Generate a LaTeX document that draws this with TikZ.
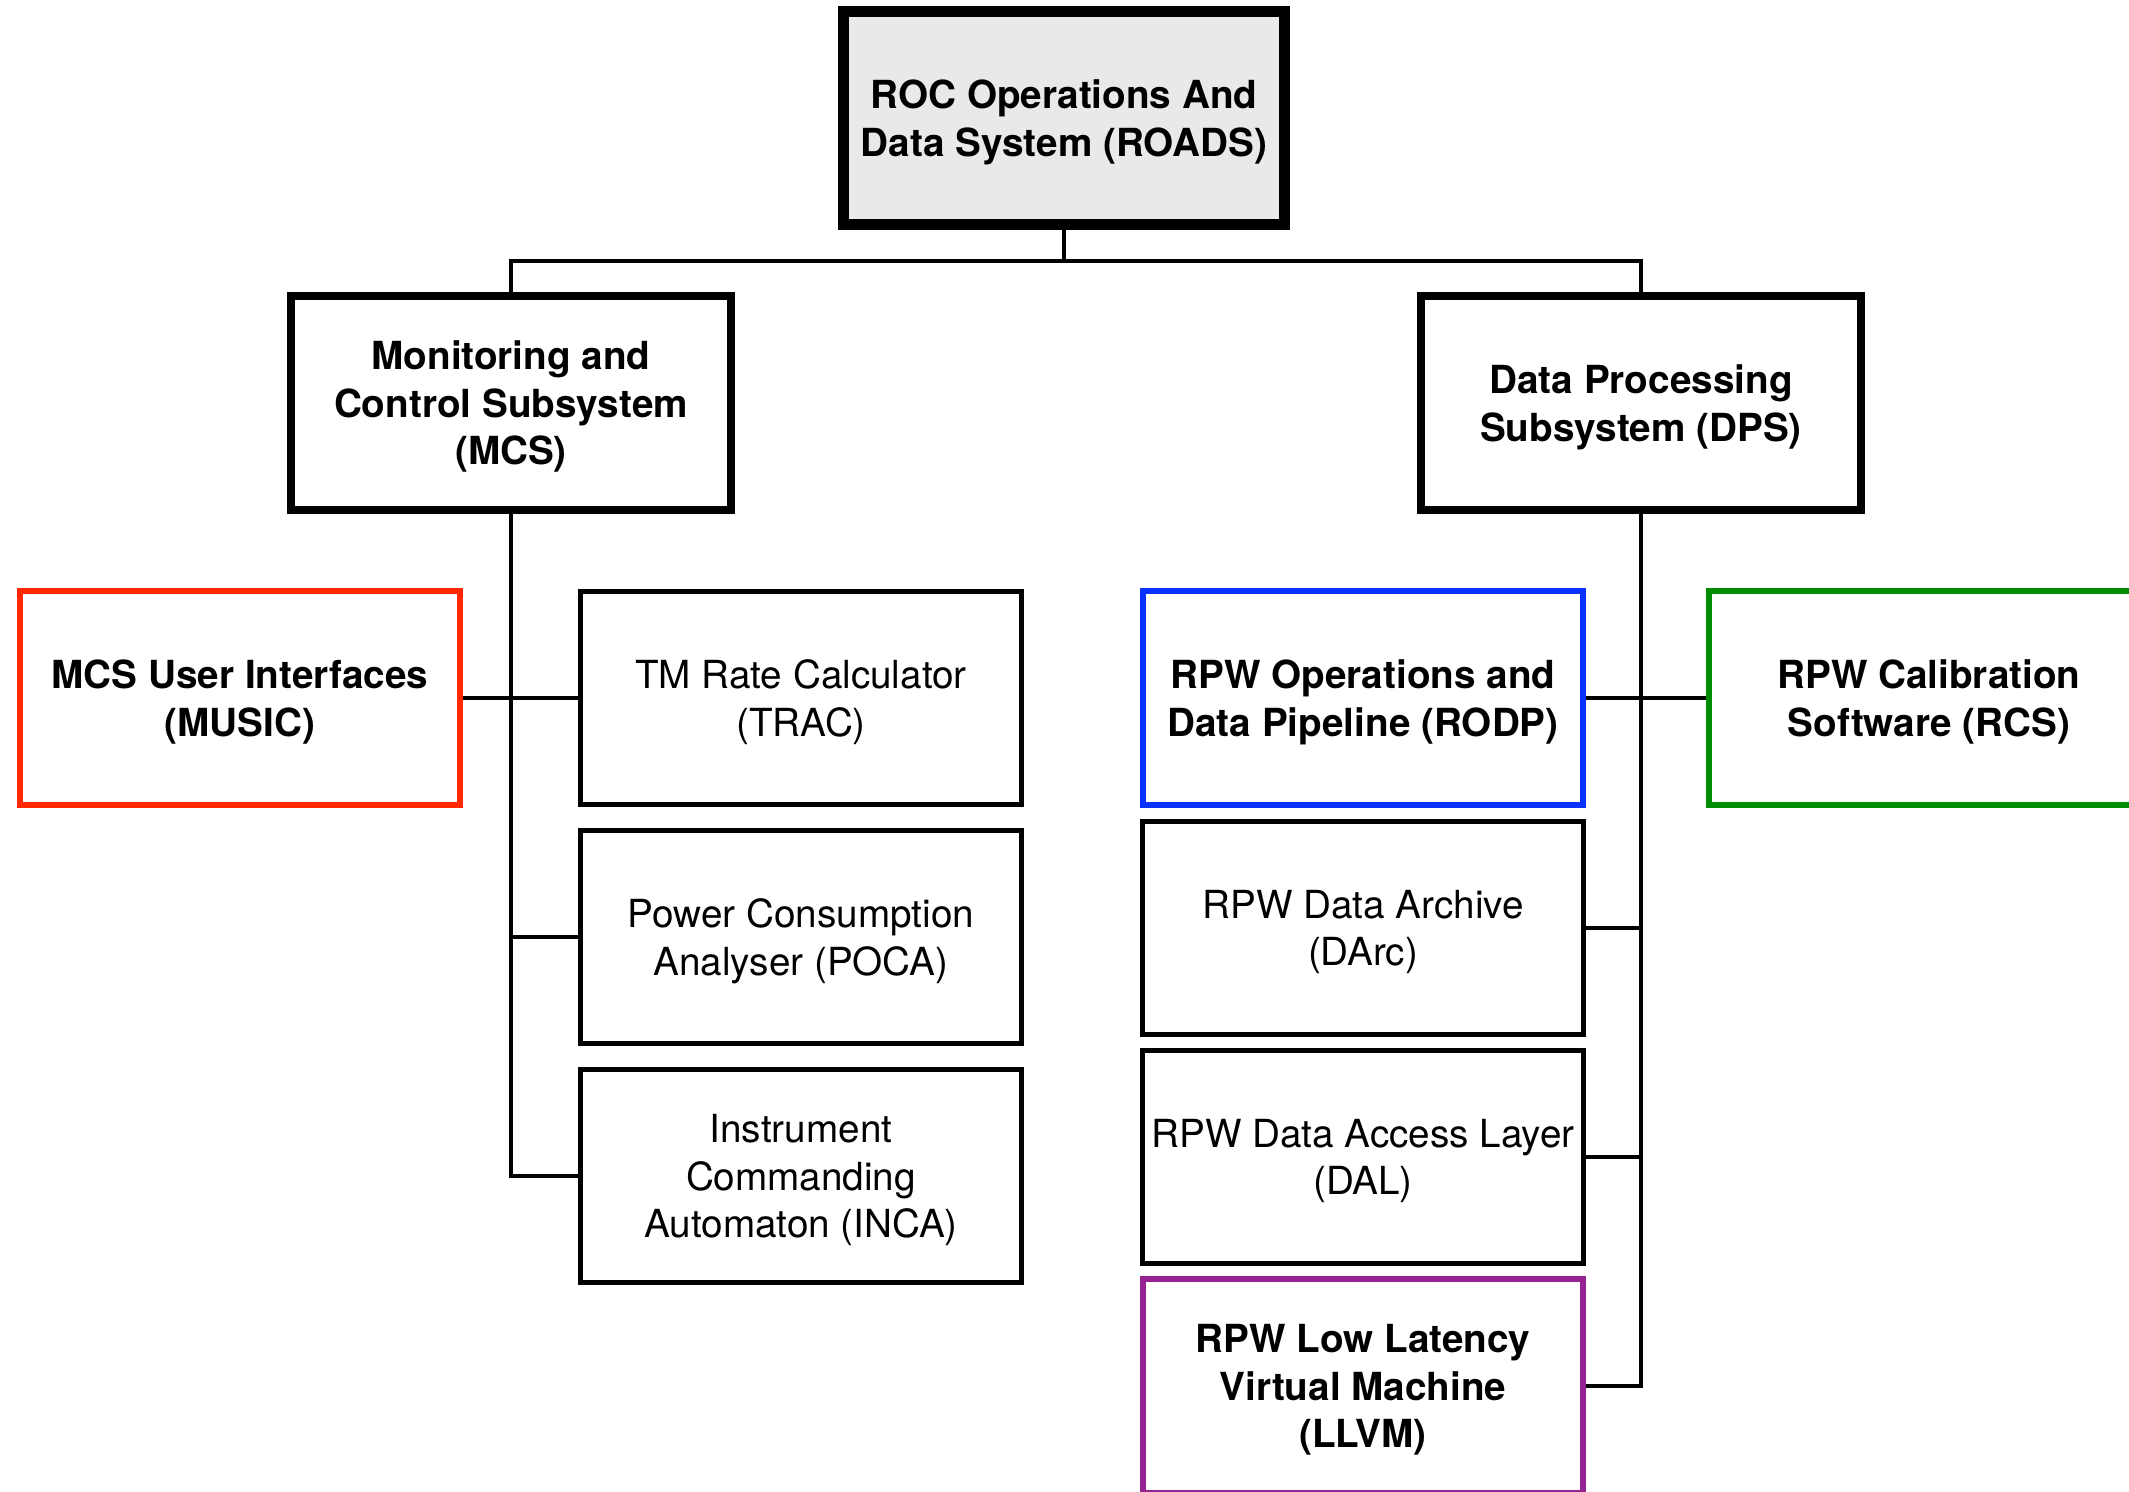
\documentclass[tikz,border=0pt]{standalone}
\usepackage{fontspec}
\setmainfont{TeX Gyre Heros}
\definecolor{roadsgray}{RGB}{233,233,233}
\definecolor{musicred}{RGB}{255,40,0}
\definecolor{rodpblue}{RGB}{10,50,255}
\definecolor{rcsgreen}{RGB}{0,140,0}
\definecolor{llvmpurple}{RGB}{150,35,145}

\begin{document}
\begin{tikzpicture}[x=0.01cm,y=-0.01cm,
  box/.style={rectangle,draw,line width=1.4pt,minimum width=4.4cm,minimum height=2.13cm,
    inner xsep=1pt,text depth=0pt,align=center,font=\fontsize{11}{13.5}\selectfont},
  topbox/.style={box,line width=3.1pt,fill=roadsgray,font=\fontsize{11}{13.5}\selectfont\bfseries},
  subbox/.style={box,line width=2.3pt,font=\fontsize{11}{13.5}\selectfont\bfseries},
  colbox/.style={box,line width=1.7pt,font=\fontsize{11}{13.5}\selectfont\bfseries},
  link/.style={line width=1.4pt}]
\useasboundingbox (0,0) rectangle (2129,1492);
\clip (0,0) rectangle (2129,1492);

\node[topbox] (roads) at (1064,118) {ROC Operations And\\Data System (ROADS)};
\node[subbox] (mcs) at (511,403) {Monitoring and\\Control Subsystem\\(MCS)};
\node[subbox] (dps) at (1641,403) {Data Processing\\Subsystem (DPS)};

\node[colbox,draw=musicred] (music) at (240,698) {MCS User Interfaces\\(MUSIC)};
\node[box] (trac) at (801,698) {TM Rate Calculator\\(TRAC)};
\node[box] (poca) at (801,937) {Power Consumption\\Analyser (POCA)};
\node[box] (inca) at (801,1176) {Instrument\\Commanding\\Automaton (INCA)};

\node[colbox,draw=rodpblue] (rodp) at (1363,698) {RPW Operations and\\Data Pipeline (RODP)};
\node[colbox,draw=rcsgreen] (rcs) at (1929,698) {RPW Calibration\\Software (RCS)};
\node[box] (darc) at (1363,928) {RPW Data Archive\\(DArc)};
\node[box] (dal) at (1363,1157) {RPW Data Access Layer\\(DAL)};
\node[colbox,draw=llvmpurple] (llvm) at (1363,1386) {RPW Low Latency\\Virtual Machine\\(LLVM)};

\coordinate (bus) at (1064,261);
\draw[link] (roads.south) -- (bus);
\draw[link] (mcs.north) |- (bus) -| (dps.north);

\draw[link] (mcs.south) |- (inca.west);
\draw[link] (music.east) -- (trac.west);
\draw[link] (poca.west) -- (poca.west -| mcs.south);

\draw[link] (dps.south) |- (llvm.east);
\draw[link] (rodp.east) -- (rcs.west);
\draw[link] (darc.east) -- (darc.east -| dps.south);
\draw[link] (dal.east) -- (dal.east -| dps.south);
\end{tikzpicture}
\end{document}
